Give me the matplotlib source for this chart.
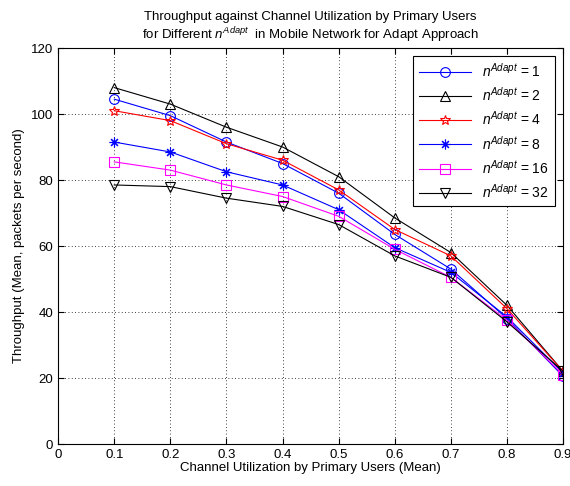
import matplotlib.pyplot as plt
import numpy as np

plt.rcParams['font.family'] = ['Liberation Sans', 'DejaVu Sans']
plt.rcParams['mathtext.fontset'] = 'custom'
plt.rcParams['mathtext.rm'] = 'Liberation Sans'
plt.rcParams['mathtext.it'] = 'Liberation Sans:italic'

utilization = [0.1, 0.2, 0.3, 0.4, 0.5, 0.6, 0.7, 0.8, 0.9]
n_adapt = [1, 2, 4, 8, 16, 32]
tp_1 = [104.5, 99.5, 91.5, 85, 76, 63.5, 53, 38, 20.5]
tp_2 = [108, 103, 96, 90, 81, 68.5, 58, 42, 22]
tp_4 = [101, 98, 91, 86, 77, 65, 57, 41, 22]
tp_8 = [91.5, 88.5, 82.5, 78.5, 71, 59.5, 52, 38.5, 21.5]
tp_16 = [85.5, 83, 78.5, 75, 69, 59, 50.5, 37.5, 21]
tp_32 = [78.5, 78, 74.5, 72, 66.5, 57, 50.5, 37, 22]

series = [tp_1, tp_2, tp_4, tp_8, tp_16, tp_32]
colors = ['#0000ff', 'black', '#ff0000', '#0000ff', '#ff00ff', 'black']
# matlab '*' is an asterisk, 'p' a pentagram
markers = ['o', '^', '*', (8, 2, 0), 's', 'v']
sizes = [7, 7, 7, 7, 7, 7]

fig = plt.figure(figsize=(5.7, 4.86), dpi=100)
ax = fig.add_axes([0.102, 0.0864, 0.886, 0.8148])

for vals, n, c, m, ms in zip(series, n_adapt, colors, markers, sizes):
    ax.plot(utilization, vals, color=c, marker=m, ms=ms, mfc='none', mec=c,
            mew=0.8, lw=0.8, label=r'$n^{Adapt}$ = %d' % n)

ax.set_xlim(0, 0.9)
ax.set_ylim(0, 120)
ax.set_xticks(np.arange(0, 0.91, 0.1))
ax.set_xticklabels(['0', '0.1', '0.2', '0.3', '0.4', '0.5', '0.6', '0.7', '0.8', '0.9'])
ax.set_yticks(range(0, 121, 20))
ax.tick_params(direction='in', top=True, right=True, labelsize=9.5, length=4)
ax.grid(True, linestyle=(0, (1, 3)), color='black', lw=0.6)

ax.set_xlabel('Channel Utilization by Primary Users (Mean)', fontsize=9.5, labelpad=1)
ax.set_ylabel('Throughput (Mean, packets per second)', fontsize=9.5, labelpad=4)
ax.set_title('Throughput against Channel Utilization by Primary Users\n'
             r'for Different $n^{Adapt}$  in Mobile Network for Adapt Approach',
             fontsize=9.5, pad=6)

leg = ax.legend(loc='upper right', fontsize=10, fancybox=False, framealpha=1,
                edgecolor='black', handlelength=3.8, borderaxespad=0.6,
                labelspacing=0.45)
leg.get_frame().set_linewidth(0.8)

fig.savefig('out.png', dpi=100)
